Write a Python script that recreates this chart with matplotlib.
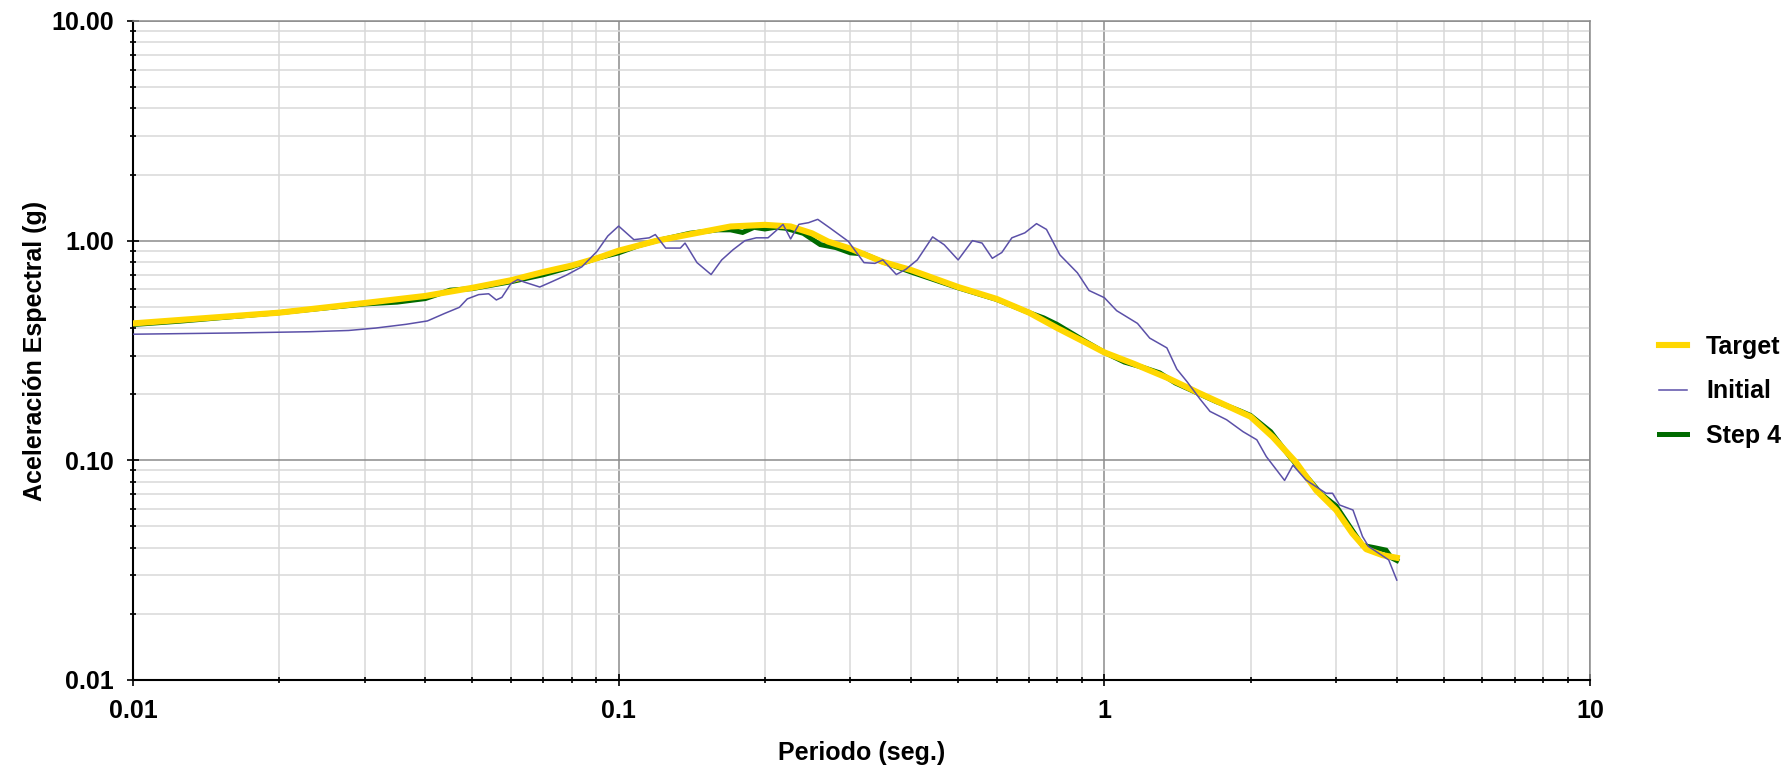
import matplotlib
matplotlib.use("Agg")
import matplotlib.pyplot as plt
from matplotlib.ticker import FixedLocator, LogLocator, NullFormatter

plt.rcParams['font.family'] = ['Liberation Sans', 'DejaVu Sans']
plt.rcParams['font.weight'] = 'bold'

# Target spectrum
target_T = [0.01, 0.02, 0.03, 0.04, 0.05, 0.06, 0.07, 0.08, 0.09, 0.10, 0.12,
            0.15, 0.17, 0.20, 0.226, 0.25, 0.27, 0.30, 0.35, 0.40, 0.50, 0.60,
            0.70, 0.80, 0.90, 1.00, 1.15, 1.35, 1.57, 1.84, 2.00, 2.22, 2.48,
            2.73, 3.00, 3.24, 3.46, 3.74, 4.00]
target_Sa = [0.42, 0.47, 0.52, 0.56, 0.61, 0.66, 0.72, 0.77, 0.83, 0.90, 1.00,
             1.10, 1.16, 1.18, 1.16, 1.08, 0.99, 0.92, 0.80, 0.735, 0.615, 0.543,
             0.47, 0.40, 0.35, 0.31, 0.275, 0.237, 0.202, 0.172, 0.158, 0.128, 0.098,
             0.073, 0.0594, 0.0465, 0.0394, 0.037, 0.036]

# Initial (unmatched) record spectrum
initial_T = [0.01, 0.0162, 0.0232, 0.0278, 0.0316, 0.0365, 0.0404, 0.0438, 0.047,
             0.0488, 0.0515, 0.054, 0.056, 0.0575, 0.060, 0.062, 0.0639, 0.0688,
             0.0726, 0.078, 0.084, 0.0902, 0.095, 0.100, 0.1075, 0.1156, 0.119,
             0.125, 0.134, 0.137, 0.145, 0.155, 0.163, 0.172, 0.182, 0.192, 0.203,
             0.210, 0.218, 0.226, 0.235, 0.246, 0.257, 0.272, 0.297, 0.320, 0.337,
             0.350, 0.373, 0.390, 0.412, 0.443, 0.468, 0.500, 0.535, 0.560, 0.588,
             0.615, 0.645, 0.686, 0.725, 0.760, 0.810, 0.880, 0.930, 1.00, 1.06,
             1.17, 1.24, 1.345, 1.41, 1.48, 1.574, 1.65, 1.785, 1.93, 2.06, 2.155,
             2.35, 2.445, 2.60, 2.86, 2.95, 3.05, 3.25, 3.40, 3.50, 3.85, 4.00]
initial_Sa = [0.375, 0.38, 0.385, 0.39, 0.40, 0.416, 0.431, 0.466, 0.497,
              0.543, 0.568, 0.573, 0.537, 0.552, 0.637, 0.665, 0.648, 0.615,
              0.648, 0.696, 0.76, 0.892, 1.05, 1.165, 1.01, 1.03, 1.066,
              0.925, 0.925, 0.975, 0.794, 0.701, 0.817, 0.909, 1.00, 1.03, 1.03,
              1.10, 1.186, 1.018, 1.186, 1.207, 1.25, 1.144, 0.993, 0.794, 0.788,
              0.817, 0.701, 0.74, 0.817, 1.04, 0.958, 0.817, 1.00, 0.975, 0.831,
              0.883, 1.03, 1.085, 1.195, 1.125, 0.861, 0.714, 0.593, 0.55, 0.48,
              0.42, 0.36, 0.325, 0.26, 0.228, 0.19, 0.167, 0.153, 0.135, 0.124, 0.104,
              0.081, 0.095, 0.0814, 0.0708, 0.0708, 0.0626, 0.0594, 0.045, 0.0405, 0.0352, 0.0285]

# Matched spectrum after iteration 4
step4_T = [0.01, 0.0125, 0.02, 0.03, 0.035, 0.04, 0.045, 0.05, 0.06, 0.07, 0.08,
           0.09, 0.10, 0.11, 0.12, 0.13, 0.14, 0.15, 0.16, 0.17, 0.18, 0.19, 0.20,
           0.21, 0.22, 0.24, 0.26, 0.28, 0.30, 0.32, 0.35, 0.40, 0.50, 0.60, 0.70,
           0.75, 0.80, 0.90, 1.00, 1.10, 1.20, 1.30, 1.40, 1.50, 1.70, 1.90, 2.00,
           2.20, 2.40, 2.60, 2.80, 3.00, 3.20, 3.40, 3.60, 3.80, 3.90, 4.00]
step4_Sa = [0.415, 0.43, 0.47, 0.515, 0.525, 0.545, 0.595, 0.605, 0.65, 0.70, 0.76,
            0.83, 0.88, 0.95, 1.00, 1.04, 1.08, 1.10, 1.12, 1.12, 1.09, 1.15, 1.13,
            1.15, 1.14, 1.08, 0.96, 0.93, 0.88, 0.87, 0.80, 0.72, 0.61, 0.54, 0.47,
            0.445, 0.415, 0.355, 0.31, 0.28, 0.265, 0.25, 0.225, 0.21, 0.185, 0.168, 0.16,
            0.135, 0.105, 0.085, 0.07, 0.062, 0.05, 0.041, 0.040, 0.039, 0.036, 0.035]

x_ticks = [0.01, 0.1, 1, 10]
x_tick_labels = ["0.01", "0.1", "1", "10"]
y_ticks = [0.01, 0.1, 1, 10]
y_tick_labels = ["0.01", "0.10", "1.00", "10.00"]

fig = plt.figure(figsize=(17.89, 7.68), dpi=100)
ax = fig.add_axes([0.0743, 0.1146, 0.8145, 0.8581])

ax.set_xscale('log')
ax.set_yscale('log')
ax.set_xlim(0.01, 10)
ax.set_ylim(0.01, 10)

ax.grid(which='minor', color='#d9d9d9', linewidth=1.1, zorder=0)
ax.grid(which='major', color='#8c8c8c', linewidth=1.1, zorder=0.5)
ax.set_axisbelow(True)

ax.plot(step4_T, step4_Sa, color='#006b00', linewidth=3.6, label='Step 4',
        solid_joinstyle='miter', zorder=2)
ax.plot(target_T, target_Sa, color='#ffd700', linewidth=4.4, label='Target', zorder=3)
ax.plot(initial_T, initial_Sa, color='#5b50a8', linewidth=1.1, label='Initial', zorder=4)

ax.xaxis.set_major_locator(FixedLocator(x_ticks))
ax.set_xticklabels(x_tick_labels)
ax.yaxis.set_major_locator(FixedLocator(y_ticks))
ax.set_yticklabels(y_tick_labels)
ax.xaxis.set_minor_locator(LogLocator(base=10, subs=range(2, 10)))
ax.yaxis.set_minor_locator(LogLocator(base=10, subs=range(2, 10)))
ax.xaxis.set_minor_formatter(NullFormatter())
ax.yaxis.set_minor_formatter(NullFormatter())

ax.tick_params(which='major', direction='inout', length=9, width=1.2,
               colors='black', labelsize=18, pad=9)
ax.tick_params(which='minor', direction='inout', length=5, width=1.2, colors='black')
ax.tick_params(top=False, right=False, which='both')

for side in ('left', 'bottom'):
    ax.spines[side].set_color('black')
    ax.spines[side].set_linewidth(1.5)
for side in ('top', 'right'):
    ax.spines[side].set_color('#8c8c8c')
    ax.spines[side].set_linewidth(1.1)

ax.set_xlabel('Periodo (seg.)', fontsize=18, fontweight='bold', labelpad=13)
ax.set_ylabel('Aceleración Espectral (g)', fontsize=18, fontweight='bold', labelpad=3)

handles, labels = ax.get_legend_handles_labels()
order = [labels.index('Target'), labels.index('Initial'), labels.index('Step 4')]
leg = fig.legend([handles[i] for i in order], [labels[i] for i in order],
                 loc='center left', bbox_to_anchor=(0.9145, 0.4905),
                 frameon=False, fontsize=18, handlelength=1.15,
                 handletextpad=0.75, labelspacing=0.82)
for t in leg.get_texts():
    t.set_fontweight('bold')

fig.savefig('out.png', dpi=100)
